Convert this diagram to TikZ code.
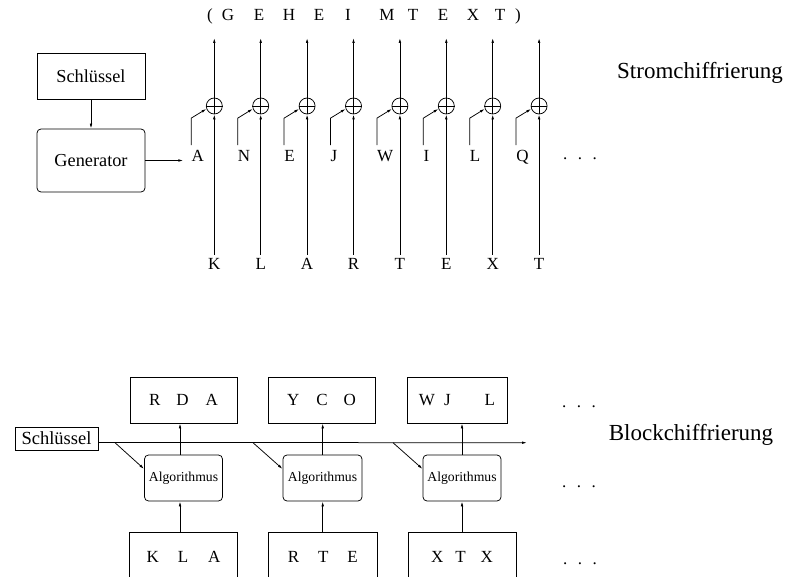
\documentclass[tikz,border=0pt]{standalone}
\usepackage{fontspec}
\setmainfont{Liberation Serif}
\usetikzlibrary{arrows.meta,calc}
\newcommand\mydots{.\hspace{10.5pt}.\hspace{10.5pt}.}
\begin{document}
\begin{tikzpicture}[x=1pt,y=-1pt,
  every node/.style={font=\fontsize{17}{20}\selectfont},
  arr/.style={-{Latex[length=5pt,width=2.6pt]}, line width=0.75pt},
  ln/.style={line width=0.75pt},
  box/.style={draw, line width=0.75pt, inner sep=0pt},
  rbox/.style={box, rounded corners=4pt},
  xorc/.style={draw, circle, minimum size=16pt, inner sep=0pt, line width=0.75pt},
  lab/.style={font=\fontsize{23}{26}\selectfont, anchor=base},
  dotsn/.style={anchor=base, inner sep=0pt},
  letter/.style={anchor=base, inner sep=0pt}
]
\useasboundingbox (0,0) rectangle (786,577);

% ---------- Stromchiffrierung ----------
\node[box, minimum width=108pt, minimum height=46pt, font=\fontsize{18.3}{20}\selectfont] (key) at (91,76) {Schlüssel};
\node[rbox, minimum width=108pt, minimum height=63pt, font=\fontsize{18.3}{20}\selectfont] (gen) at (91,160.5) {Generator};
\draw[arr] (key) -- (gen);

\foreach \x/\t [count=\k] in {210/(,228/G,259/E,289/H,319/E,348/I,387/M,413/T,443/E,473/X,500/T,518/)}
  \node[letter] (h\k) at (\x,20.5) {\t};

\foreach \i/\bot/\inl in {0/K/A,1/L/N,2/A/E,3/R/J,4/T/W,5/E/I,6/X/L,7/T/Q}{
  \pgfmathsetmacro\xc{214.3+46.4*\i}
  \node[xorc] (c\i) at (\xc,106) {};
  \draw[ln] (c\i.north) -- (c\i.south) (c\i.west) -- (c\i.east);
  \coordinate (o\i) at (\xc,38);
  \draw[arr] (c\i) -- (o\i);
  \node (b\i) at (\xc,264) {\bot};
  \draw[arr] (b\i) -- (c\i);
  \node[anchor=base west, inner sep=0pt] (i\i) at (\xc-23,161.5) {\inl};
  \draw[arr] ([yshift=5pt]i\i.north west) -- ++(0,-27) -- (c\i.200);
}
\draw[arr, shorten >=8pt] (gen.east) -- (gen.east -| i0.west);

\node[dotsn] (d1) at (580,160) {\mydots};
\node[lab] (strom) at (700,79) {Stromchiffrierung};

% ---------- Blockchiffrierung ----------
\node[box, minimum width=83pt, minimum height=23pt, font=\fontsize{18.5}{20}\selectfont] (k2) at (56.5,438.5) {Schlüssel};
\coordinate (lineend) at (527,442.7);
\draw[arr] ([yshift=-4pt]k2.east) -- (lineend);

\node[box, minimum width=107pt, minimum height=46pt] (t1) at (183.5,400) {R\hspace{16pt}D\hspace{17pt}A};
\node[box, minimum width=107pt, minimum height=46pt] (t2) at (321.5,400) {Y\hspace{17pt}C\hspace{16pt}O};
\node[box, minimum width=100pt, minimum height=46pt] (t3) at (457,400) {W\hspace{9pt}J\hspace{34pt}L};

\node[rbox, minimum width=78pt, minimum height=46pt, font=\fontsize{13.7}{16}\selectfont] (a1) at (183.5,478) {Algorithmus};
\node[rbox, minimum width=79pt, minimum height=46pt, font=\fontsize{13.7}{16}\selectfont] (a2) at (322.5,478) {Algorithmus};
\node[rbox, minimum width=78pt, minimum height=46pt, font=\fontsize{13.7}{16}\selectfont] (a3) at (462,478) {Algorithmus};

\begin{scope}
\clip (0,0) rectangle (786,577);
\node[box, minimum width=108pt, minimum height=50pt] (u1) at (183.5,557) {K\hspace{19pt}L\hspace{20pt}A};
\node[box, minimum width=109pt, minimum height=50pt] (u2) at (322.8,557) {R\hspace{19pt}T\hspace{19pt}E};
\node[box, minimum width=108pt, minimum height=50pt] (u3) at (462,557) {X\hspace{12pt}T\hspace{15pt}X};
\end{scope}

\coordinate (v1) at (180,0);
\coordinate (v2) at (322.7,0);
\coordinate (v3) at (462,0);
\foreach \n in {1,2,3}{
  \draw[arr] (u\n.north -| v\n) -- (a\n.south -| v\n);
  \draw[arr] (a\n.north -| v\n) -- (t\n.south -| v\n);
}
\coordinate (j1) at (115,442.7);
\coordinate (j2) at (253,442.7);
\coordinate (j3) at (393,442.7);
\foreach \n in {1,2,3}
  \draw[arr] (j\n) -- ([yshift=9pt]a\n.west);

\node[dotsn] (d2) at (579,407) {\mydots};
\node[dotsn] (d3) at (579,487) {\mydots};
\node[dotsn] (d4) at (580,564) {\mydots};
\node[lab] (block) at (691,440.7) {Blockchiffrierung};
\end{tikzpicture}
\end{document}
